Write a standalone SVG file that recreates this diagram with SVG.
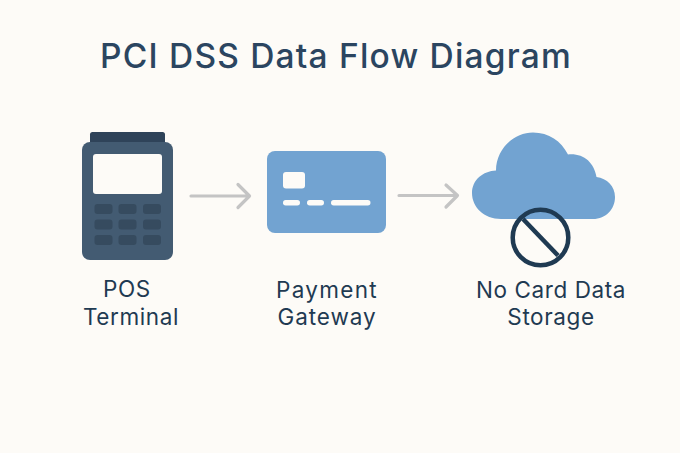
<svg xmlns="http://www.w3.org/2000/svg" width="680" height="453" viewBox="0 0 680 453">
<style>
.t{font-family:Inter,"Noto Sans",sans-serif;fill:#1f3a52;text-anchor:middle;font-size:22.5px;letter-spacing:.6px}
.k{fill:#364b5f}
.c{fill:#fdfbf7}
.a{fill:none;stroke:#c4c4c4;stroke-width:3.2;stroke-linecap:round;stroke-linejoin:round}
</style>
<rect width="680" height="453" fill="#fdfbf7"/>
<text id="title" x="336" y="68" style="font-family:Inter,'Noto Sans',sans-serif;font-size:33.500px;font-weight:500;letter-spacing:1.200px;fill:#2b4560;text-anchor:middle">PCI DSS Data Flow Diagram</text>
<g id="pos">
<rect x="90" y="132" width="75" height="16" rx="2.5" fill="#2f4359"/>
<rect x="82" y="142" width="91" height="118" rx="8" fill="#435b72"/>
<rect x="93" y="154" width="69" height="40" rx="3" class="c"/>
<rect x="94.500" y="204" width="18" height="10" rx="3" class="k"/><rect x="118.500" y="204" width="18" height="10" rx="3" class="k"/><rect x="143" y="204" width="18" height="10" rx="3" class="k"/>
<rect x="94.500" y="219.500" width="18" height="10" rx="3" class="k"/><rect x="118.500" y="219.500" width="18" height="10" rx="3" class="k"/><rect x="143" y="219.500" width="18" height="10" rx="3" class="k"/>
<rect x="94.500" y="235" width="18" height="10" rx="3" class="k"/><rect x="118.500" y="235" width="18" height="10" rx="3" class="k"/><rect x="143" y="235" width="18" height="10" rx="3" class="k"/>
<text class="t" x="127" y="297">POS</text>
<text class="t" x="131" y="325">Terminal</text>
</g>
<g id="gateway">
<rect x="267" y="151" width="119" height="82" rx="8" fill="#72a3d1"/>
<rect x="283" y="172" width="22" height="16.500" rx="3" class="c"/>
<rect x="283" y="200" width="17" height="5.500" rx="2.700" class="c"/><rect x="307" y="200" width="17" height="5.500" rx="2.700" class="c"/><rect x="331" y="200" width="39.500" height="5.500" rx="2.700" class="c"/>
<text class="t" x="327" y="298" style="letter-spacing:1.300px">Payment</text>
<text class="t" x="327" y="325" style="letter-spacing:.9px">Gateway</text>
</g>
<g id="cloud">
<path d="M501 219C484 219 472 207 472 193C472 180 483 171 496 170.500C496 149 514 132.500 533 132.500C549 132.500 561 141 568 154.500C583 153 594 162 596.500 177C607 178.500 615 186 615 197C615 209 606 219 593 219Z" fill="#72a3d1"/>
<circle cx="540.500" cy="237.500" r="27.800" fill="none" stroke="#1f3a52" stroke-width="4.500"/>
<path d="M523 219L558 255.500" fill="none" stroke="#1f3a52" stroke-width="4.500"/>
<text class="t" x="551" y="298">No Card Data</text>
<text class="t" x="551" y="325">Storage</text>
</g>
<g id="connectors">
<path class="a" d="M191 196H249M238 184.500L249.500 196L238 207.500"/>
<path class="a" d="M399 195.500H457M446 185L457.500 195.500L446 207"/>
</g>
</svg>
